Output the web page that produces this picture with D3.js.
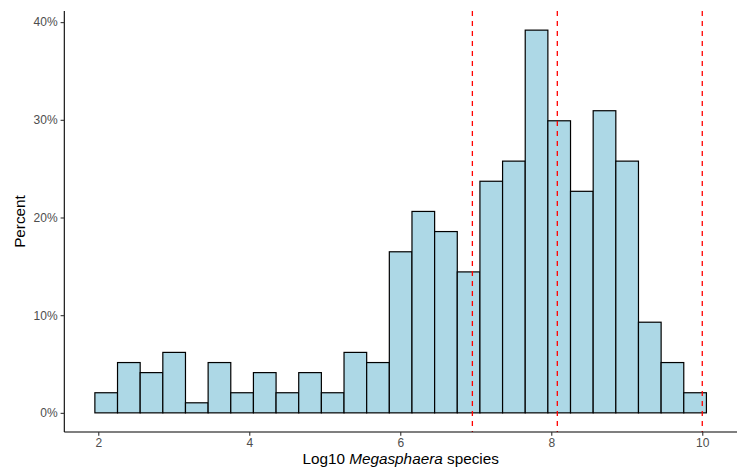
<!DOCTYPE html>
<html>
<head>
<meta charset="utf-8">
<script src="https://cdn.jsdelivr.net/npm/d3@7"></script>
<style>
  html, body { margin: 0; padding: 0; background: #fff; }
  svg { display: block; font-family: "Liberation Sans", Arial, Helvetica, sans-serif; }
</style>
</head>
<body>
<svg id="chart" width="754" height="470"></svg>
<script>
// ---- data ----
const binStart = 1.955;
const binWidth = 0.3;
const percents = [2.06, 5.15, 4.12, 6.19, 1.03, 5.15, 2.06, 4.12, 2.06, 4.12, 2.06, 6.19, 5.15,
                  16.49, 20.62, 18.56, 14.43, 23.71, 25.77, 39.18, 29.90, 22.68, 30.93, 25.77,
                  9.28, 5.15, 2.06];
const cutoffs = [6.955, 8.08, 10.0];
const xTicks = [2, 4, 6, 8, 10];
const yTicks = [0, 10, 20, 30, 40];

const bins = percents.map((p, i) => ({ x0: binStart + i * binWidth, x1: binStart + (i + 1) * binWidth, p }));

const svg = d3.select("#chart");
const mLeft = 64.3, mRight = 737, mTop = 11, mBottom = 432;

const xMin = bins[0].x0, xMax = bins[bins.length - 1].x1;
const xPad = (xMax - xMin) * 0.05;
const x = d3.scaleLinear().domain([xMin - xPad, xMax + xPad]).range([mLeft, mRight]);
const yMax = d3.max(percents);
const y = d3.scaleLinear().domain([-yMax * 0.05, yMax * 1.05]).range([mBottom, mTop]);

// bars
svg.append("g").selectAll("rect").data(bins).join("rect")
  .attr("x", d => x(d.x0))
  .attr("y", d => y(d.p))
  .attr("width", d => x(d.x1) - x(d.x0))
  .attr("height", d => y(0) - y(d.p))
  .attr("fill", "#ADD8E6")
  .attr("stroke", "#000")
  .attr("stroke-width", 1.2);

// vertical dashed lines
svg.append("g").selectAll("line").data(cutoffs).join("line")
  .attr("x1", d => x(d)).attr("x2", d => x(d))
  .attr("y1", mTop).attr("y2", mBottom)
  .attr("stroke", "#FF0000")
  .attr("stroke-width", 1.3)
  .attr("stroke-dasharray", "5,5");

// axes
const xAxis = svg.append("g").attr("transform", `translate(0,${mBottom})`)
  .call(d3.axisBottom(x).tickValues(xTicks).tickSize(3.7).tickPadding(3).tickFormat(d3.format("d")));
const yAxis = svg.append("g").attr("transform", `translate(${mLeft},0)`)
  .call(d3.axisLeft(y).tickValues(yTicks).tickSize(3.7).tickPadding(3).tickFormat(d => d + "%"));

[xAxis, yAxis].forEach(a => {
  a.select(".domain").attr("stroke", "#000").attr("stroke-width", 1.1);
  a.selectAll(".tick line").attr("stroke", "#333").attr("stroke-width", 1.1);
  a.selectAll(".tick text").attr("fill", "#4D4D4D").style("font-size", "12px")
    .style("font-family", "'Liberation Sans', Arial, sans-serif");
});
xAxis.select(".domain").attr("d", `M${mLeft},0H${mRight}`);
yAxis.select(".domain").attr("d", `M0,${mTop}V${mBottom}`);

// axis titles
const xt = svg.append("text")
  .attr("x", (mLeft + mRight) / 2).attr("y", 464)
  .attr("text-anchor", "middle")
  .style("font-size", "15.3px").attr("fill", "#000");
xt.append("tspan").text("Log10 ");
xt.append("tspan").style("font-style", "italic").text("Megasphaera");
xt.append("tspan").text(" species");

svg.append("text")
  .attr("transform", `translate(25,${(mTop + mBottom) / 2}) rotate(-90)`)
  .attr("text-anchor", "middle")
  .style("font-size", "15.3px").attr("fill", "#000")
  .text("Percent");
</script>
</body>
</html>
